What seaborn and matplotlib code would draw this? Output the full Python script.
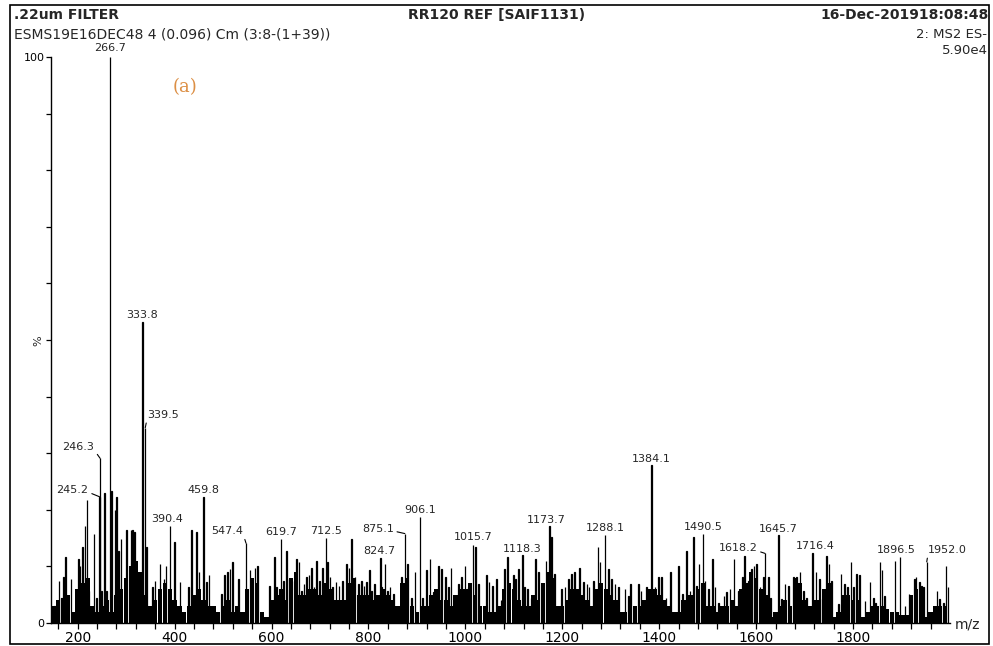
import numpy as np
import pandas as pd
import matplotlib
matplotlib.use("Agg")
import matplotlib.pyplot as plt
from matplotlib.patches import Rectangle
import seaborn as sns

# ---- labelled peaks (m/z, relative intensity %) ----
label_mz = [245.2, 246.3, 266.7, 333.8, 339.5, 390.4, 459.8, 547.4, 619.7,
            712.5, 824.7, 875.1, 906.1, 1015.7, 1118.3, 1173.7, 1288.1,
            1384.1, 1490.5, 1618.2, 1645.7, 1716.4, 1896.5, 1952.0]
label_int = [22.3, 29.1, 100.0, 53.2, 34.5, 17.1, 22.3, 14.1, 14.8,
             15.0, 11.4, 15.8, 18.7, 13.8, 12.0, 17.1, 15.5,
             28.0, 15.7, 12.3, 15.5, 12.3, 11.6, 10.8]

# ---- other resolved sticks ----
stick_mz = [152.0, 158.7, 161.5, 167.0, 170.4, 175.2, 186.3, 198.0, 201.4, 204.8,
            209.6, 215.1, 219.3, 222.0, 233.7, 239.2, 249.5, 255.0, 259.9, 270.0,
            277.0, 280.5, 283.9, 289.4, 301.1, 310.1, 313.5, 317.0, 342.4, 354.0,
            359.6, 369.9, 378.2, 382.3, 399.5, 411.2, 428.4, 435.3, 445.6, 450.4,
            466.2, 471.0, 497.2, 502.7, 509.6, 514.4, 519.2,
            531.5, 555.6, 559.0, 566.0, 570.7, 595.5, 605.8, 610.6, 624.4, 631.2,
            636.7, 641.6, 651.9, 656.7, 662.2, 667.0, 672.5, 677.3, 682.8, 687.6,
            693.1, 698.6, 705.5, 715.8, 720.7, 726.2, 733.0, 739.2, 746.8, 755.0,
            759.9, 765.4, 772.3, 779.1, 786.0, 790.8, 796.3, 801.8, 806.6, 812.1,
            827.3, 834.2, 839.0, 844.5, 851.3, 868.5, 880.2, 889.2, 896.0,
            911.2, 920.2, 927.0, 933.9, 944.3, 951.1, 959.4, 964.9, 970.4, 977.3,
            985.5, 992.4, 999.3, 1006.2, 1021.3, 1026.8, 1044.0, 1048.8, 1055.7, 1064.6,
            1073.6, 1080.4, 1087.3, 1099.0, 1103.8, 1109.3, 1121.7, 1128.6, 1135.5, 1145.1,
            1150.6, 1166.4, 1178.1, 1183.6, 1198.8, 1205.6, 1212.5, 1219.4, 1224.9, 1235.2,
            1243.5, 1250.5, 1255.2, 1264.1, 1273.1, 1277.8,
            1295.0, 1301.9, 1308.8, 1315.6, 1329.4, 1336.3, 1341.1, 1356.9, 1362.4, 1374.1,
            1391.3, 1398.2, 1405.1, 1414.0, 1423.6, 1439.4, 1448.4, 1456.6, 1463.5, 1470.4,
            1477.3, 1482.1, 1494.5, 1501.4, 1509.6, 1515.1, 1522.0, 1533.7, 1539.2, 1546.0,
            1554.3, 1563.3, 1572.2, 1575.6, 1583.9, 1590.8, 1595.6, 1601.1, 1608.0, 1614.8,
            1625.2, 1630.0, 1652.7, 1659.6,
            1666.5, 1676.8, 1683.7, 1690.6, 1697.4, 1704.3, 1723.6, 1730.4, 1735.3, 1745.6,
            1750.4, 1755.9, 1769.7, 1775.2, 1782.0, 1788.9, 1795.8, 1800.6, 1807.5, 1813.0,
            1824.7, 1835.0, 1841.9, 1846.7, 1855.6, 1859.1, 1864.6, 1887.0, 1907.2, 1915.5,
            1926.5, 1929.9, 1936.8, 1941.6, 1945.0, 1972.6, 1978.1, 1986.3, 1991.2, 1995.3]
stick_int = [3.0, 3.9, 7.5, 4.5, 8.1, 11.7, 7.8, 5.1, 11.3, 10.1,
             13.4, 17.1, 21.7, 5.7, 15.8, 4.5, 5.7, 23.0, 5.7, 23.3,
             20.0, 22.3, 12.8, 14.9, 16.5, 16.4, 16.4, 16.1, 13.4, 6.3,
             7.5, 10.4, 7.8, 10.0, 14.3, 7.2, 6.3, 16.5, 16.1, 9.0,
             7.2, 8.4, 5.1, 8.4, 9.0, 9.5, 10.7,
             7.8, 9.3, 6.3, 9.8, 10.1, 6.6, 11.7, 6.3, 7.5, 12.8,
             7.8, 7.5, 11.3, 10.7, 5.7, 6.9, 8.1, 8.4, 9.7, 6.3,
             10.9, 7.5, 9.8, 10.7, 8.1, 6.3, 7.2, 6.6, 7.5, 10.4,
             9.8, 14.9, 8.1, 6.9, 7.5, 6.6, 7.2, 9.3, 5.7, 6.9,
             6.3, 10.4, 5.7, 6.3, 5.1, 8.1, 10.4, 4.5, 9.0,
             4.5, 9.3, 11.3, 5.4, 10.1, 9.5, 8.1, 6.3, 9.8, 4.5,
             6.9, 8.1, 10.1, 6.3, 13.5, 6.9, 8.4, 7.2, 6.5, 7.8,
             4.0, 9.5, 11.6, 8.4, 7.8, 9.5, 6.3, 6.0, 4.5, 11.3,
             9.0, 11.0, 15.2, 8.7, 6.0, 6.3, 7.8, 8.7, 9.0, 9.8,
             7.2, 6.9, 6.3, 7.5, 13.4, 10.7,
             9.5, 7.8, 6.9, 6.3, 6.0, 4.8, 6.9, 6.9, 5.7, 6.3,
             6.3, 8.1, 8.1, 4.5, 9.0, 10.1, 5.1, 12.8, 5.7, 15.2,
             6.6, 10.4, 7.5, 6.0, 11.3, 6.3, 3.6, 4.8, 5.4, 6.0,
             11.3, 5.7, 8.1, 11.9, 7.5, 9.5, 10.1, 10.4, 6.3, 8.1,
             8.1, 4.5, 4.2, 6.9,
             6.6, 8.1, 8.2, 9.0, 5.7, 4.5, 9.0, 7.8, 4.2, 11.9,
             10.4, 7.5, 3.3, 8.7, 6.9, 6.3, 10.7, 6.3, 8.7, 8.4,
             3.9, 7.2, 4.5, 3.6, 10.7, 9.3, 4.8, 11.0, 3.0, 5.1,
             7.8, 8.1, 7.2, 6.6, 6.3, 5.7, 4.2, 3.6, 10.1, 6.3]

# ---- unresolved baseline, one value per 10 m/z starting at 150 ----
base_start = 150
base_int = [3, 4, 4.5, 5, 2,
            6, 7, 8, 3, 2, 3, 4, 2, 5, 6,
            8, 10, 11, 9, 5, 3, 4, 6, 7, 6,
            4, 3, 2, 3, 5, 6, 4, 3, 3, 2,
            3, 4, 2, 3, 2, 6, 8, 7, 2, 1,
            4, 5, 6, 4, 8, 9, 5, 5, 6, 6,
            5, 7, 6, 4, 4, 4, 7, 8, 5, 5,
            5, 4, 5, 6, 5, 4, 3, 7, 8, 3,
            2, 3, 3, 5, 6, 4, 4, 3, 5, 6,
            6, 7, 5, 3, 3, 2, 2, 3, 6, 7,
            6, 4, 3, 3, 5, 4, 7, 9, 8, 3,
            3, 4, 6, 6, 5, 4, 3, 6, 7, 6,
            5, 4, 2, 2, 2, 3, 3, 4, 6, 6,
            5, 4, 3, 2, 2, 4, 5, 5, 6, 7,
            3, 3, 2, 3, 3, 4, 3, 6, 7, 9,
            8, 6, 5, 1, 2, 3, 4, 3, 8, 7,
            4, 3, 4, 4, 6, 7, 1, 2, 5, 5,
            4, 4, 1, 2, 3, 3, 3, 2.5, 2, 2,
            1.5, 1.5, 5, 6, 6, 1, 2, 3, 3, 3]

# label text placement (pixels right / up from the peak top)
label_dx = [-27, -22, 0, 0, 18, -3, 0, -19, 0, 0, -1, -27, 0, 0, 0, -3, 0, 0, 0, -27, 0, 3, -4, 21]
label_dy = [7, 11, 9, 7, 13, 7, 7, 12, 7, 7, 7, 5, 7, 8, 6, 6, 7, 6, 7, 5, 6, 7, 7, 12]

W, H = 993, 646
sns.set_style("ticks")
plt.rcParams["font.family"] = ["DejaVu Sans"]

fig = plt.figure(figsize=(W / 100, H / 100), dpi=100)
ax = fig.add_axes([51 / W, 1 - 623 / H, (950 - 51) / W, (623 - 57) / H])

base_df = pd.DataFrame({
    "mz": base_start + 10 * np.arange(len(base_int)),
    "intensity": base_int,
})
stick_df = pd.DataFrame({
    "mz": list(label_mz) + list(stick_mz),
    "intensity": list(label_int) + list(stick_int),
})

sns.barplot(data=base_df, x="mz", y="intensity", native_scale=True, orient="x",
            width=0.9, color="black", linewidth=0, errorbar=None, ax=ax)
sns.barplot(data=stick_df, x="mz", y="intensity", native_scale=True, orient="x",
            width=0.8, color="black", edgecolor="black", linewidth=0.9,
            errorbar=None, ax=ax)
for p in ax.patches:
    p.set_facecolor("black")

ax.set_xlim(145, 2000)
ax.set_ylim(0, 100)
ax.set_xlabel("")
ax.set_ylabel("")

# axis decoration
sns.despine(ax=ax, top=True, right=True)
for s in ("left", "bottom"):
    ax.spines[s].set_color("black")
    ax.spines[s].set_linewidth(1.0)

xt = np.arange(160, 2000, 40)
ax.set_xticks(xt)
ax.set_xticklabels([str(v) if v % 200 == 0 else "" for v in xt], fontsize=10)
ax.tick_params(axis="x", direction="out", length=4, width=0.9, pad=1.5, colors="black")
yt = np.arange(0, 101, 10)
ax.set_yticks(yt)
ax.set_yticklabels(["0"] + [""] * 9 + ["100"], fontsize=8)
ax.tick_params(axis="y", direction="out", length=3.5, width=0.9, pad=1, colors="black")

# peak labels
px2pt = 72 / 100
for mz, inten, dx, dy in zip(label_mz, label_int, label_dx, label_dy):
    txt = f"{mz:.1f}"
    if abs(dx) > 10:
        rel = (1.0, 0.25) if dx < 0 else (0.0, 0.25)
        ax.annotate(txt, xy=(mz, inten), xytext=(dx * px2pt, dy * px2pt),
                    textcoords="offset points", ha="center", va="center",
                    fontsize=8, annotation_clip=False,
                    arrowprops=dict(arrowstyle="-", color="black", lw=0.8,
                                    shrinkA=0, shrinkB=0, relpos=rel))
    else:
        ax.annotate(txt, xy=(mz, inten), xytext=(dx * px2pt, dy * px2pt),
                    textcoords="offset points", ha="center", va="center",
                    fontsize=8, annotation_clip=False)

def ftext(x, y, s, **kw):
    fig.text(x / W, 1 - y / H, s, va="center", **kw)

# header block
ftext(14, 15, ".22um FILTER", ha="left", fontsize=10, fontweight="bold")
ftext(497, 15, "RR120 REF [SAIF1131)", ha="center", fontsize=10, fontweight="bold")
ftext(989, 15, "16-Dec-201918:08:48", ha="right", fontsize=10, fontweight="bold")
ftext(14, 34, "ESMS19E16DEC48 4 (0.096) Cm (3:8-(1+39))", ha="left", fontsize=10)
ftext(987, 34, "2: MS2 ES-", ha="right", fontsize=9.5)
ftext(988, 51, "5.90e4", ha="right", fontsize=9.5)

ftext(185, 87, "(a)", ha="center", fontsize=13, color="#dc8f45", family="DejaVu Serif")
ftext(38, 341, "%", ha="center", fontsize=8, rotation=90)
ftext(968, 625, "m/z", ha="center", fontsize=10)

# outer frame
fig.add_artist(Rectangle((10 / W, 1 - 644 / H), (989 - 10) / W, (644 - 5) / H,
                         transform=fig.transFigure, fill=False,
                         edgecolor="black", linewidth=1.2))

fig.savefig("out.png", dpi=100, facecolor="white")
